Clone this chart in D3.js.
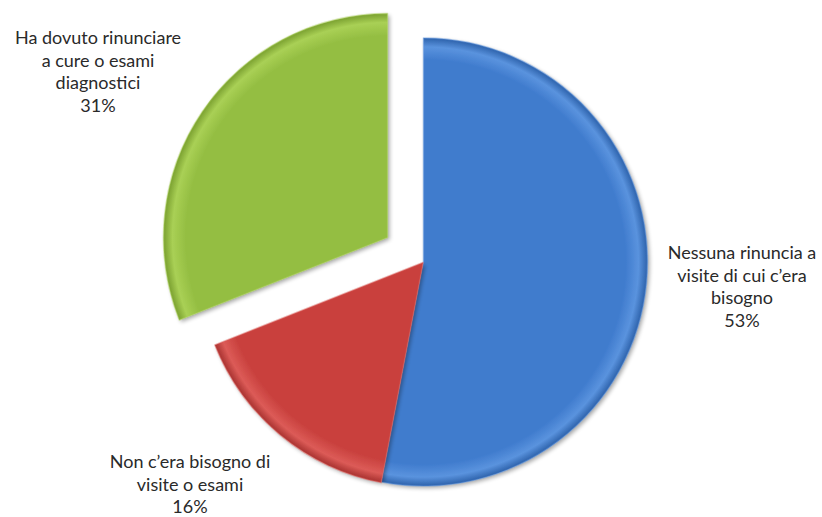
<!DOCTYPE html>
<html>
<head>
<meta charset="utf-8">
<script src="https://cdn.jsdelivr.net/npm/d3@7"></script>
<style>
  html, body { margin: 0; padding: 0; background: #fff; }
  svg { display: block; }
  .lbl { font-family: Lato, "Open Sans", sans-serif; font-size: 18px; fill: #2a2a2a; }
</style>
</head>
<body>
<svg id="chart" width="822" height="517"></svg>
<script>
// Categories and shares (percent)
const categories = [
  "Nessuna rinuncia a visite di cui c\u2019era bisogno",
  "Non c\u2019era bisogno di visite o esami",
  "Ha dovuto rinunciare a cure o esami diagnostici"
];
const values = [53, 16, 31];
const labelLines = [
  ["Nessuna rinuncia a", "visite di cui c\u2019era", "bisogno"],
  ["Non c\u2019era bisogno di", "visite o esami"],
  ["Ha dovuto rinunciare", "a cure o esami", "diagnostici"]
];

// Styling / layout
const colors = [
  { base: "#3f7bcd", light: "#5a93de", dark: "#2d62ab" },
  { base: "#c9413e", light: "#dc5b57", dark: "#a83230" },
  { base: "#94be42", light: "#a9d055", dark: "#7aa030" }
];
const explode = [0, 0.6, 43.5];
const labelAnchors = [[742, 252], [190, 461], [98, 37]];
const lineStep = 22.5;
const cx = 423.5, cy = 262, R = 224;

const svg = d3.select("#chart");
const defs = svg.append("defs");

// soft drop shadow under each slice
const shadow = defs.append("filter").attr("id", "shadow")
  .attr("x", "-10%").attr("y", "-10%").attr("width", "120%").attr("height", "120%");
shadow.append("feGaussianBlur").attr("in", "SourceAlpha").attr("stdDeviation", 2.2);
shadow.append("feOffset").attr("dx", 1.5).attr("dy", 2).attr("result", "off");
shadow.append("feComponentTransfer").append("feFuncA").attr("type", "linear").attr("slope", 0.35);
const merge = shadow.append("feMerge");
merge.append("feMergeNode");
merge.append("feMergeNode").attr("in", "SourceGraphic");

// rim shading for the bevelled look
colors.forEach((c, i) => {
  const g = defs.append("radialGradient").attr("id", "grad" + i)
    .attr("gradientUnits", "userSpaceOnUse")
    .attr("cx", 0).attr("cy", 0).attr("r", R);
  g.append("stop").attr("offset", "0%").attr("stop-color", c.base);
  g.append("stop").attr("offset", "90%").attr("stop-color", c.base);
  g.append("stop").attr("offset", "96%").attr("stop-color", c.light);
  g.append("stop").attr("offset", "100%").attr("stop-color", c.dark);
});

const pie = d3.pie().sort(null).value(d => d)(values);
const arc = d3.arc().innerRadius(0).outerRadius(R);

const slices = svg.append("g").attr("transform", `translate(${cx},${cy})`)
  .selectAll("g").data(pie).join("g")
  .attr("transform", (d, i) => {
    const a = (d.startAngle + d.endAngle) / 2;
    return `translate(${Math.sin(a) * explode[i]},${-Math.cos(a) * explode[i]})`;
  });

slices.append("path")
  .attr("d", arc)
  .attr("fill", (d, i) => `url(#grad${i})`)
  .attr("filter", "url(#shadow)");

// subtle highlight along the slice edges
slices.append("path")
  .attr("d", arc)
  .attr("fill", "none")
  .attr("stroke", (d, i) => colors[i].light)
  .attr("stroke-opacity", 0.45)
  .attr("stroke-width", 1.5)
  .attr("stroke-linejoin", "round");

const labels = svg.append("g").selectAll("text").data(pie).join("text")
  .attr("class", "lbl")
  .attr("text-anchor", "middle")
  .attr("x", (d, i) => labelAnchors[i][0])
  .attr("y", (d, i) => labelAnchors[i][1]);

labels.each(function(d, i) {
  const t = d3.select(this);
  const lines = labelLines[i].concat([d.data + "%"]);
  lines.forEach((ln, k) => {
    t.append("tspan")
      .attr("x", labelAnchors[i][0])
      .attr("y", labelAnchors[i][1] + k * lineStep)
      .attr("dominant-baseline", "central")
      .text(ln);
  });
});
</script>
</body>
</html>
